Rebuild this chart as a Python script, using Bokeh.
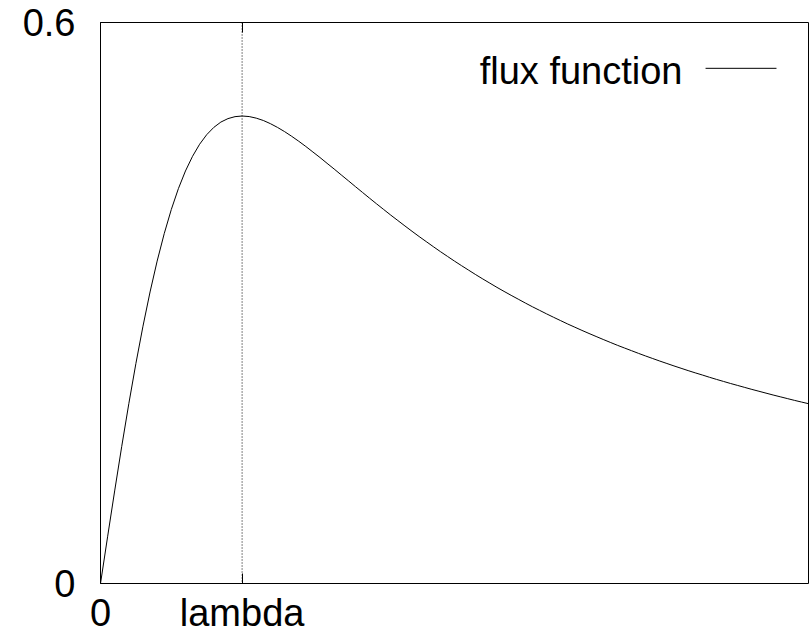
from bokeh.plotting import figure
from bokeh.models import (Range1d, FixedTicker, LinearAxis, Span, Label, Arrow)
from bokeh.embed import file_html
from bokeh.resources import INLINE

# ---- data ----
u_values = [0.00, 0.05, 0.10, 0.15, 0.20, 0.25, 0.30, 0.35, 0.40, 0.45,
            0.50, 0.55, 0.60, 0.65, 0.70, 0.75, 0.80, 0.85, 0.90, 0.95,
            1.00, 1.05, 1.10, 1.15, 1.20, 1.25, 1.30, 1.35, 1.40, 1.45,
            1.50, 1.55, 1.60, 1.65, 1.70, 1.75, 1.80, 1.85, 1.90, 1.95,
            2.00, 2.05, 2.10, 2.15, 2.20, 2.25, 2.30, 2.35, 2.40, 2.45,
            2.50, 2.55, 2.60, 2.65, 2.70, 2.75, 2.80, 2.85, 2.90, 2.95,
            3.00, 3.05, 3.10, 3.15, 3.20, 3.25, 3.30, 3.35, 3.40, 3.45,
            3.50, 3.55, 3.60, 3.65, 3.70, 3.75, 3.80, 3.85, 3.90, 3.95,
            4.00, 4.05, 4.10, 4.15, 4.20, 4.25, 4.30, 4.35, 4.40, 4.45,
            4.50, 4.55, 4.60, 4.65, 4.70, 4.75, 4.80, 4.85, 4.90, 4.95, 5.00]
flux_values = [0.0000, 0.0499, 0.0990, 0.1467, 0.1923, 0.2353, 0.2752, 0.3118, 0.3448, 0.3742,
               0.4000, 0.4223, 0.4412, 0.4569, 0.4698, 0.4800, 0.4878, 0.4935, 0.4972, 0.4993,
               0.5000, 0.4994, 0.4977, 0.4952, 0.4918, 0.4878, 0.4833, 0.4783, 0.4730, 0.4674,
               0.4615, 0.4556, 0.4494, 0.4433, 0.4370, 0.4308, 0.4245, 0.4183, 0.4121, 0.4060,
               0.4000, 0.3940, 0.3882, 0.3824, 0.3767, 0.3711, 0.3657, 0.3603, 0.3550, 0.3499,
               0.3448, 0.3399, 0.3351, 0.3303, 0.3257, 0.3212, 0.3167, 0.3124, 0.3082, 0.3041,
               0.3000, 0.2960, 0.2922, 0.2884, 0.2847, 0.2811, 0.2775, 0.2741, 0.2707, 0.2674,
               0.2642, 0.2610, 0.2579, 0.2548, 0.2519, 0.2490, 0.2461, 0.2433, 0.2406, 0.2379,
               0.2353, 0.2327, 0.2302, 0.2277, 0.2253, 0.2230, 0.2206, 0.2183, 0.2161, 0.2139,
               0.2118, 0.2097, 0.2076, 0.2056, 0.2036, 0.2016, 0.1997, 0.1978, 0.1959, 0.1941, 0.1923]
x_ticks = [0, 1]
x_tick_labels = ["0", "lambda"]
y_ticks = [0, 0.6]
y_tick_labels = ["0", "0.6"]
lambda_value = 1.0
series_name = "flux function"

FONT = "Liberation Sans"
FS = "38px"

p = figure(width=809, height=637, output_backend="svg", toolbar_location=None,
           x_range=Range1d(0, 5), y_range=Range1d(0, 0.6),
           min_border_left=100, min_border_right=1, min_border_top=22, min_border_bottom=54)
p.grid.visible = False
p.outline_line_color = "black"
p.outline_line_width = 1
p.background_fill_color = "white"
p.border_fill_color = "white"

for ax in p.xaxis:
    ax.ticker = FixedTicker(ticks=x_ticks)
    ax.major_label_overrides = {t: l for t, l in zip(x_ticks, x_tick_labels)}
for ax in p.yaxis:
    ax.ticker = FixedTicker(ticks=y_ticks)
    ax.major_label_overrides = {t: l for t, l in zip(y_ticks, y_tick_labels)}
for ax in list(p.xaxis) + list(p.yaxis):
    ax.axis_line_color = None
    ax.major_tick_in = 10
    ax.major_tick_out = 0
    ax.minor_tick_line_color = None
    ax.major_tick_line_color = "black"
    ax.major_label_text_font = FONT
    ax.major_label_text_font_size = FS
    ax.major_label_text_color = "black"
p.xaxis.major_label_standoff = 8
p.yaxis.major_label_standoff = 25

# mirrored ticks on top
top = LinearAxis(ticker=FixedTicker(ticks=x_ticks), axis_line_color=None,
                 major_tick_in=10, major_tick_out=0, minor_tick_line_color=None,
                 major_label_text_font_size="0px", major_label_standoff=0,
                 major_label_overrides={t: "" for t in x_ticks})
p.add_layout(top, "above")

# dotted vertical line at lambda
p.add_layout(Span(location=lambda_value, dimension="height", line_color="black",
                  line_width=1, line_dash="1 2"))

p.line(u_values, flux_values, line_color="black", line_width=1)

# gnuplot-style key: text then line sample
p.add_layout(Label(x=4.11, y=0.548, text=series_name, text_align="right",
                   text_baseline="middle", text_font=FONT, text_font_size=FS,
                   text_color="black"))
p.add_layout(Arrow(end=None, start=None, x_start=4.273, y_start=0.551,
                   x_end=4.774, y_end=0.551, line_color="black", line_width=1))

open("out.html", "w").write(file_html(p, INLINE))
